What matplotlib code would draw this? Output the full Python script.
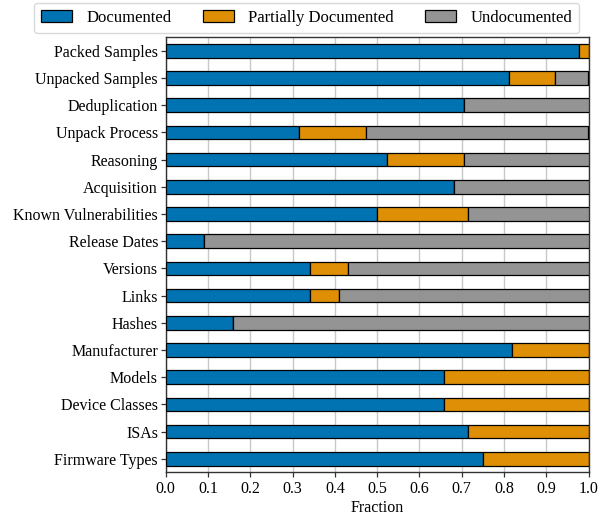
import matplotlib
matplotlib.use("Agg")
import matplotlib.pyplot as plt
import numpy as np

plt.rcParams['font.family'] = ['Liberation Serif', 'DejaVu Serif']

categories = ["Packed Samples", "Unpacked Samples", "Deduplication", "Unpack Process",
              "Reasoning", "Acquisition", "Known Vulnerabilities", "Release Dates",
              "Versions", "Links", "Hashes", "Manufacturer", "Models",
              "Device Classes", "ISAs", "Firmware Types"]
documented = [0.978, 0.811, 0.705, 0.316, 0.523, 0.682, 0.500, 0.091,
              0.341, 0.341, 0.159, 0.818, 0.659, 0.659, 0.714, 0.750]
partial = [0.022, 0.109, 0.000, 0.158, 0.182, 0.000, 0.214, 0.000,
           0.091, 0.068, 0.000, 0.182, 0.341, 0.341, 0.286, 0.250]
undocumented = [1 - d - p for d, p in zip(documented, partial)]
series_names = ["Documented", "Partially Documented", "Undocumented"]
colors = ["#0173b2", "#de8f05", "#949494"]

FS = 11.5

fig = plt.figure(figsize=(6.11, 5.17), dpi=100)
ax = fig.add_axes([165.7/611, 1 - 472.3/517, (588.5-165.7)/611, (472.3-37.3)/517])

y = np.arange(len(categories))
left = np.zeros(len(categories))
handles = []
for vals, name, c in zip([documented, partial, undocumented], series_names, colors):
    vals = np.array(vals)
    h = ax.barh(y, vals, left=left, height=0.5, color=c, edgecolor="black",
                linewidth=0.9, label=name, zorder=3)
    handles.append(h)
    left = left + vals

ax.set_ylim(len(categories) - 0.5, -0.5)
ax.set_xlim(0, 1)
ax.set_yticks(y)
ax.set_yticklabels(categories, fontsize=FS)
ax.set_xticks(np.arange(0, 1.01, 0.1))
ax.set_xticklabels([f"{v:.1f}" for v in np.arange(0, 1.01, 0.1)], fontsize=FS)
ax.set_xlabel("Fraction", fontsize=FS, labelpad=2)
ax.grid(axis="x", color="#c8c8c8", linewidth=1.0, zorder=0)
ax.set_axisbelow(True)
for s in ax.spines.values():
    s.set_color("#333333")
    s.set_linewidth(1.0)
ax.tick_params(axis="both", length=3.5, width=0.9, color="#333333")
ax.tick_params(axis="x", pad=3)
ax.tick_params(axis="y", pad=2)

fig.legend(handles=handles, labels=series_names, loc="upper left",
           bbox_to_anchor=(34.3/611, 1 - 2.7/517), borderaxespad=0, ncol=3, fontsize=12,
           frameon=True, fancybox=True, edgecolor="#d0d0d0",
           handlelength=1.85, handleheight=0.8, columnspacing=1.9,
           borderpad=0.42, handletextpad=0.85)

fig.savefig("out.png", dpi=100)
